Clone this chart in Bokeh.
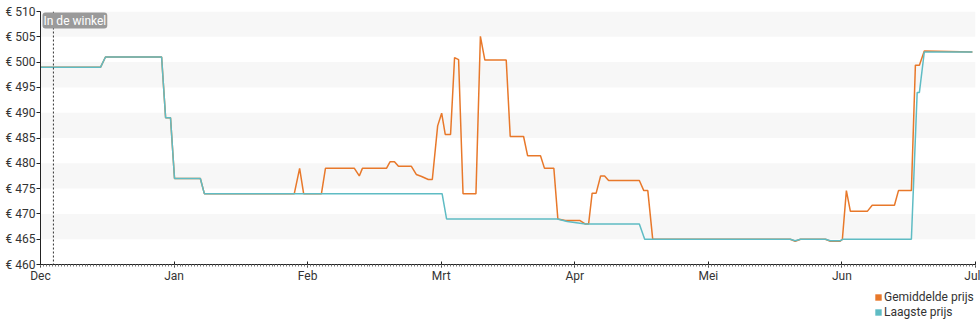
import numpy as np
from bokeh.plotting import figure
from bokeh.layouts import column
from bokeh.models import (ColumnDataSource, FixedTicker, PrintfTickFormatter, Legend,
                          LegendItem, Label, Span, Range1d)
from bokeh.embed import file_html
from bokeh.resources import INLINE

# ---- data (day offsets from 1 Dec, 30-day months on the axis) ----
month_labels = ["Dec", "Jan", "Feb", "Mrt", "Apr", "Mei", "Jun", "Jul"]
month_days = [0, 30, 60, 90, 120, 150, 180, 210]

avg_day = [0, 13.5, 14.6, 27.2, 28.1, 29.2, 30.1, 35.9, 36.8, 57.0, 58.2, 59.1, 63.1, 64.0,
           70.5, 71.6, 72.3, 77.7, 78.5, 79.5, 80.4, 83.3, 84.4, 85.6, 87.1, 88.0, 89.2,
           90.1, 90.9, 92.1, 93.0, 93.9, 94.9, 97.8, 98.8, 99.8, 104.6, 105.5, 108.5,
           109.4, 112.3, 113.2, 115.3, 116.2, 117.9, 121.1, 122.4, 123.1, 123.9, 124.8,
           125.8, 126.7, 127.6, 134.5, 135.5, 136.4, 137.5, 168.4, 169.5, 170.7, 176.3,
           177.4, 179.6, 180.1, 181.0, 181.9, 185.7, 186.8, 191.8, 192.7, 195.6, 196.5,
           197.4, 198.5, 209.3]
avg_price = [499, 499, 501, 501, 489, 489, 477, 477, 474, 474, 479, 474, 474, 479,
             479, 477.5, 479, 479, 480.3, 480.3, 479.4, 479.4, 477.8, 477.4, 476.8, 476.8, 487.4,
             489.9, 485.7, 485.7, 500.9, 500.5, 474, 474, 505.1, 500.4, 500.4, 485.3, 485.3,
             481.5, 481.5, 479, 479, 469, 468.7, 468.7, 468, 468, 474.1, 474.1,
             477.5, 477.5, 476.6, 476.6, 474.6, 474.6, 465, 465, 464.6, 465, 465,
             464.6, 464.6, 465, 474.6, 470.5, 470.5, 471.7, 471.7, 474.6, 474.6, 499.4,
             499.4, 502.2, 502]

low_day = [0, 13.5, 14.6, 27.2, 28.1, 29.2, 30.1, 35.9, 36.8, 90.2, 91.2, 116.1, 118.3,
           122.4, 134.5, 135.7, 168.4, 169.5, 170.7, 176.3, 177.4, 179.6, 180.3, 195.6,
           196.9, 197.4, 198.5, 209.3]
low_price = [499, 499, 501, 501, 489, 489, 477, 477, 474, 474, 469, 469, 468.5,
             468, 468, 465, 465, 464.7, 465, 465, 464.7, 464.7, 465, 465,
             494, 494, 502, 502]

store_day = 2.9
store_label = "In de winkel"
y_ticks = list(range(460, 511, 5))
series_names = ["Gemiddelde prijs", "Laagste prijs"]

ORANGE = "#e8782a"
TEAL = "#5fbcc4"
TXT = "#333333"
FONT = "Roboto"
FS = "12px"

p = figure(width=980, height=285, output_backend="svg", toolbar_location=None,
           x_range=Range1d(0, 210), y_range=Range1d(460, 510),
           min_border_left=40, min_border_right=5, min_border_top=11, min_border_bottom=20)
p.outline_line_color = None
p.background_fill_color = "white"
p.border_fill_color = "white"

# grid bands
p.xgrid.grid_line_color = None
p.ygrid.grid_line_color = None
p.ygrid.band_fill_color = "#f7f7f7"
p.ygrid.band_fill_alpha = 1.0
p.ygrid.ticker = FixedTicker(ticks=y_ticks)

# axes
p.yaxis.ticker = FixedTicker(ticks=y_ticks)
p.yaxis.formatter = PrintfTickFormatter(format="€ %d")
p.yaxis.major_tick_in = 0
p.yaxis.major_tick_out = 4
p.yaxis.minor_tick_line_color = None
p.yaxis.axis_line_color = "#222222"
p.yaxis.major_tick_line_color = "#222222"
p.yaxis.major_label_standoff = 1

minor = list(np.arange(0, 210.01, 30 / 45))
p.xaxis.ticker = FixedTicker(ticks=month_days, minor_ticks=minor)
p.xaxis.major_label_overrides = {d: l for d, l in zip(month_days, month_labels)}
p.xaxis.major_tick_in = 3
p.xaxis.major_tick_out = 3
p.xaxis.minor_tick_in = 0
p.xaxis.minor_tick_out = 2
p.xaxis.minor_tick_line_color = "#777777"
p.xaxis.axis_line_color = "#222222"
p.xaxis.major_tick_line_color = "#222222"
p.xaxis.major_label_standoff = 1

for ax in (p.xaxis, p.yaxis):
    ax.major_label_text_font = FONT
    ax.major_label_text_font_size = FS
    ax.major_label_text_color = TXT

# store line + label (annotations are clipped to the frame, so keep label inside)
p.add_layout(Span(location=store_day, dimension="height", line_color="#333333",
                  line_dash="2 2", line_width=1))
lab = Label(x=0, x_offset=2, y=510, y_offset=-9, text=store_label, text_align="left",
            text_baseline="middle", text_font=FONT, text_font_size=FS,
            text_color="white", background_fill_color="#9a9a9a",
            background_fill_alpha=1.0, border_radius=3, padding=1)
p.add_layout(lab)

# series
avg_src = ColumnDataSource(dict(x=avg_day, y=avg_price))
low_src = ColumnDataSource(dict(x=low_day, y=low_price))
p.line("x", "y", source=avg_src, line_color=ORANGE, line_width=1.5)
p.line("x", "y", source=low_src, line_color=TEAL, line_width=1.5)

# legend strip below the chart (swatch quads sit outside the visible range)
lf = figure(width=980, height=40, output_backend="svg", toolbar_location=None,
            x_range=Range1d(0, 1), y_range=Range1d(0, 1), x_axis_type=None,
            y_axis_type=None, min_border=0)
lf.outline_line_color = None
lf.xgrid.visible = False
lf.ygrid.visible = False
sw = ColumnDataSource(dict(l=[5], r=[6], b=[5], t=[6]))
r_avg = lf.quad(left="l", right="r", bottom="b", top="t", source=sw,
                fill_color=ORANGE, line_color=None)
r_low = lf.quad(left="l", right="r", bottom="b", top="t", source=sw,
                fill_color=TEAL, line_color=None)
legend = Legend(items=[LegendItem(label=series_names[0], renderers=[r_avg]),
                       LegendItem(label=series_names[1], renderers=[r_low])],
                location=(834, 6), orientation="vertical",
                glyph_width=8, glyph_height=8, label_standoff=2, spacing=1,
                padding=0, margin=0, label_height=13,
                label_text_font=FONT, label_text_font_size=FS, label_text_color=TXT,
                border_line_color=None, background_fill_alpha=0)
lf.add_layout(legend)

layout = column(p, lf, spacing=0)
open("out.html", "w").write(file_html(layout, INLINE))
